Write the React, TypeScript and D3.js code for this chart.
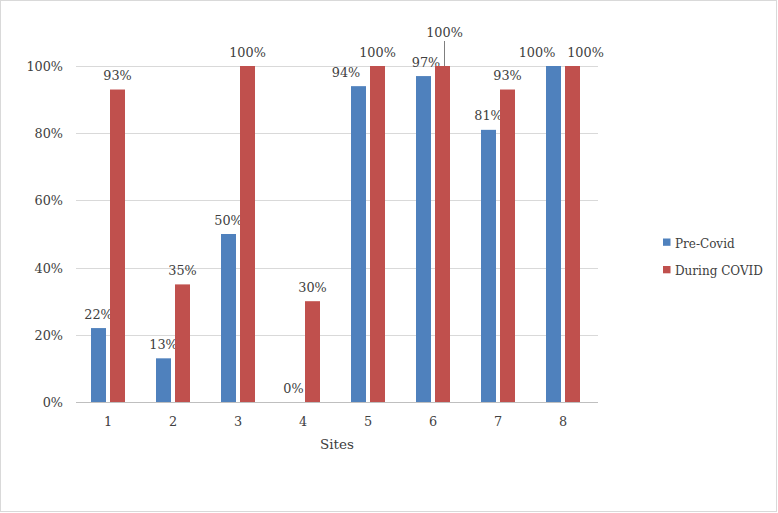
import React, { useEffect, useRef } from 'react'
import * as d3 from 'd3'

const sites = ['1', '2', '3', '4', '5', '6', '7', '8']
const preCovid = [22, 13, 50, 0, 94, 97, 81, 100]
const duringCovid = [93, 35, 100, 30, 100, 100, 93, 100]
const yTicks = [0, 20, 40, 60, 80, 100]
const seriesNames = ['Pre-Covid', 'During COVID']

const W = 778
const H = 513
const BLUE = '#4F81BD'
const RED = '#C0504D'
const TEXT = '#404040'
const FONT = "'DejaVu Serif', serif"
const FS = 12.8

// labels that were dragged by hand in the original: [series][site index] -> [dx, fixed y]
const nudges: Record<string, [number, number | null]> = {
  '0-4': [-12.5, null],
  '0-5': [2.5, null],
  '0-7': [-16.5, null],
  '1-5': [2, 36.5],
  '1-7': [13, null],
}

export default function App() {
  const node = useRef<SVGSVGElement>(null)

  useEffect(() => {
    const svg = d3.select(node.current)
    svg.selectAll('*').remove()

    const left = 75.5
    const right = 595.5
    const top = 66
    const bottom = 402

    // frame around the whole chart
    svg.append('rect')
      .attr('x', 0.5).attr('y', 0.5)
      .attr('width', W - 2).attr('height', H - 2)
      .attr('fill', 'white')
      .attr('stroke', '#d9d9d9')

    const x = d3.scaleBand().domain(sites).range([left, right])
    const y = d3.scaleLinear().domain([0, 100]).range([bottom, top])

    const barW = 15
    const gap = 4

    // gridlines
    svg.append('g')
      .selectAll('line')
      .data(yTicks)
      .enter()
      .append('line')
      .attr('x1', 76).attr('x2', 598)
      .attr('y1', d => Math.round(y(d)) + 0.5)
      .attr('y2', d => Math.round(y(d)) + 0.5)
      .attr('stroke', d => d === 0 ? '#bfbfbf' : '#d9d9d9')

    // y labels
    svg.append('g')
      .selectAll('text')
      .data(yTicks)
      .enter()
      .append('text')
      .attr('x', 63)
      .attr('y', d => y(d) + 5)
      .attr('text-anchor', 'end')
      .attr('font-family', FONT)
      .attr('font-size', FS)
      .attr('fill', TEXT)
      .text(d => `${d}%`)

    // x labels
    svg.append('g')
      .selectAll('text')
      .data(sites)
      .enter()
      .append('text')
      .attr('x', d => (x(d) as number) + x.bandwidth() / 2)
      .attr('y', 425.5)
      .attr('text-anchor', 'middle')
      .attr('font-family', FONT)
      .attr('font-size', FS)
      .attr('fill', TEXT)
      .text(d => d)

    svg.append('text')
      .attr('x', 337)
      .attr('y', 448.5)
      .attr('text-anchor', 'middle')
      .attr('font-family', FONT)
      .attr('font-size', 13.5)
      .attr('fill', TEXT)
      .text('Sites')

    const series = [
      { values: preCovid, color: BLUE, off: -gap / 2 - barW },
      { values: duringCovid, color: RED, off: gap / 2 },
    ]

    series.forEach((s, si) => {
      const g = svg.append('g')
      g.selectAll('rect')
        .data(s.values)
        .enter()
        .append('rect')
        .attr('x', (d, i) => (x(sites[i]) as number) + x.bandwidth() / 2 + s.off)
        .attr('y', d => y(d))
        .attr('width', barW)
        .attr('height', d => bottom - y(d))
        .attr('fill', s.color)

      g.selectAll('text')
        .data(s.values)
        .enter()
        .append('text')
        .attr('x', (d, i) => {
          const cx = (x(sites[i]) as number) + x.bandwidth() / 2 + s.off + barW / 2
          const n = nudges[`${si}-${i}`]
          return n ? cx + n[0] : cx
        })
        .attr('y', (d, i) => {
          const n = nudges[`${si}-${i}`]
          return n && n[1] !== null ? n[1] : y(d) - 9.5
        })
        .attr('text-anchor', 'middle')
        .attr('font-family', FONT)
        .attr('font-size', FS)
        .attr('fill', TEXT)
        .text(d => `${d}%`)
    })

    // leader line for the moved label
    svg.append('line')
      .attr('x1', 444.5).attr('x2', 444.5)
      .attr('y1', 41).attr('y2', y(100))
      .attr('stroke', '#7f7f7f')

    // legend
    const lg = svg.append('g')
    seriesNames.forEach((name, i) => {
      lg.append('rect')
        .attr('x', 663).attr('y', 238.5 + i * 27.5)
        .attr('width', 7.5).attr('height', 7.3)
        .attr('fill', i === 0 ? BLUE : RED)
      lg.append('text')
        .attr('x', 675).attr('y', 247.7 + i * 27.3)
        .attr('font-family', FONT)
        .attr('font-size', 12)
        .attr('fill', TEXT)
        .text(name)
    })
  }, [])

  return (
    <svg ref={node} width={W} height={H} style={{ display: 'block', position: 'absolute', left: 0, top: 0 }} />
  )
}
